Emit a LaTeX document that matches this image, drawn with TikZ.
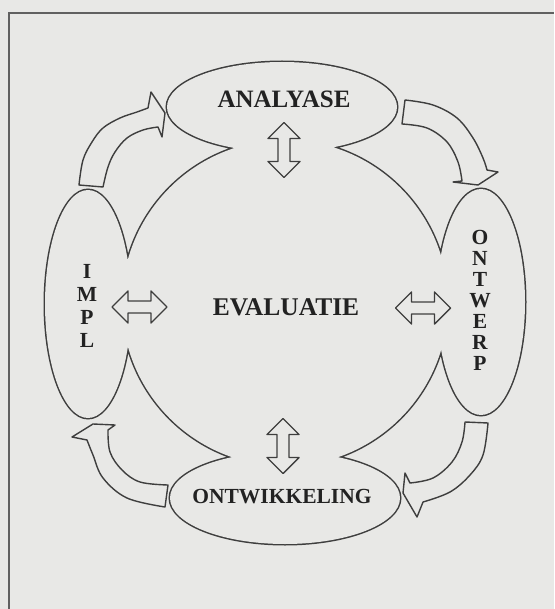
\documentclass[tikz,border=0pt]{standalone}
\usepackage{fontspec}
\setmainfont{Liberation Serif}
\definecolor{paper}{RGB}{232,232,230}
\definecolor{ink}{RGB}{62,62,62}
\definecolor{txt}{RGB}{34,34,34}

\begin{document}
\begin{tikzpicture}[x=1pt,y=-1pt,
  lbl/.style={inner sep=0pt,text=txt},
  blok/.style={draw=ink,line width=1.4pt,line join=round},
  dubbel/.pic={\draw[blok] (-27.5,0) -- (-11.5,-16) -- (-11.5,-6) -- (11.5,-6) -- (11.5,-16) -- (27.5,0)
    -- (11.5,16) -- (11.5,6) -- (-11.5,6) -- (-11.5,16) -- cycle;}]

\useasboundingbox (0,0) rectangle (554,609);
\fill[paper] (0,0) rectangle (554,609);
\draw[gray!75!black,line width=1.4pt] (9,609) -- (9,13) -- (554,13);

\coordinate (mid) at (285,303);
\coordinate (ana) at (282,107);
\coordinate (ont) at (481,302);
\coordinate (wik) at (285,498);
\coordinate (imp) at (88,304);

% outline of circle and ellipses together
\path[fill=paper,preaction={draw=ink,line width=3pt}]
  (mid) circle[radius=163]
  (ana) ellipse[x radius=115,y radius=45]
  (ont) ellipse[x radius=44,y radius=113]
  (wik) ellipse[x radius=115,y radius=46]
  (imp) ellipse[x radius=43,y radius=114];

\node[lbl,font=\bfseries\fontsize{25}{25}\selectfont] (analyse) at (284,99) {ANALYASE};
\node[lbl,font=\bfseries\fontsize{25.5}{25.5}\selectfont] (evaluatie) at (286,307) {EVALUATIE};
\node[lbl,font=\bfseries\fontsize{21.5}{21.5}\selectfont] (ontwikkeling) at (282,497) {ONTWIKKELING};
\node[lbl,align=center,font=\bfseries\fontsize{21.5}{21}\selectfont] (ontwerp) at (480,300) {O\\N\\T\\W\\E\\R\\P};
\node[lbl,align=center,font=\bfseries\fontsize{21.5}{22.7}\selectfont] (impl) at (87,306) {I\\M\\P\\L};

\pic[rotate=90] at (284,150) {dubbel};
\pic[rotate=90] at (283,446) {dubbel};
\pic at (139.5,307) {dubbel};
\pic at (423,308) {dubbel};

% round arrows
\draw[blok] plot[smooth,tension=0.6] coordinates {(79,185) (83,160) (92,142) (103,128) (120,118) (137,112) (148,108)}
  -- (151,92) -- (165,113) -- (162,137) -- (158,127)
  -- plot[smooth,tension=0.6] coordinates {(158,127) (143,130) (127,138) (115,152) (108,167) (103,187)} -- cycle;
\draw[blok] plot[smooth,tension=0.6] coordinates {(405,100) (433,105) (457,118) (473,138) (483,158) (487,170)}
  -- (498,172) -- (478,185) -- (453,182) -- (462,181)
  -- plot[smooth,tension=0.6] coordinates {(462,181) (458,162) (447,142) (427,128) (402,124)} -- cycle;
\draw[blok] plot[smooth,tension=0.6] coordinates {(165,507) (127,498) (103,478) (93,455) (87,440)}
  -- (72,437) -- (93,424) -- (115,425) -- (108,430)
  -- plot[smooth,tension=0.6] coordinates {(108,430) (110,452) (122,470) (140,482) (168,485)} -- cycle;
\draw[blok] plot[smooth,tension=0.6] coordinates {(488,423) (483,455) (470,475) (450,492) (423,502)}
  -- (417,517) -- (403,493) -- (405,473) -- (410,483)
  -- plot[smooth,tension=0.6] coordinates {(410,483) (433,478) (452,462) (462,442) (465,422)} -- cycle;

\end{tikzpicture}
\end{document}
